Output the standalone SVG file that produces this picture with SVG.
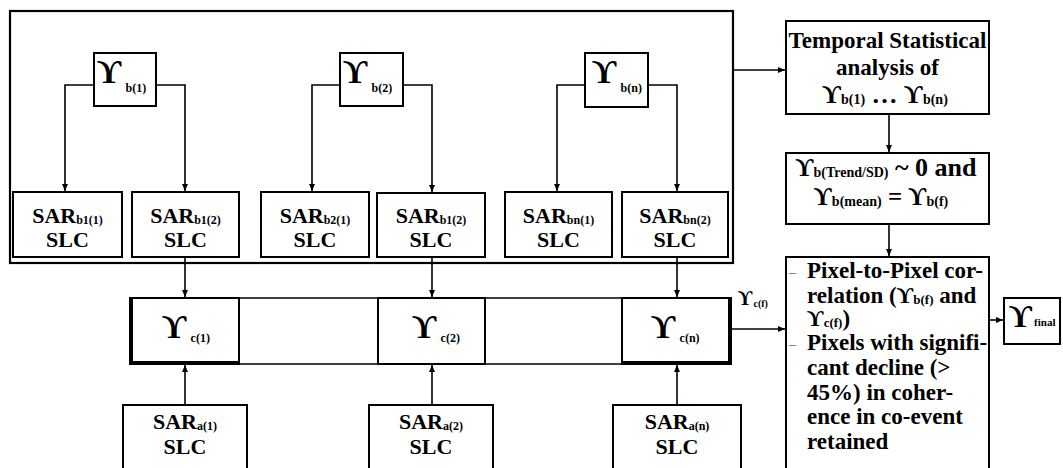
<svg xmlns="http://www.w3.org/2000/svg" width="1063" height="468" viewBox="0 0 1063 468">
<style>
text{font-family:"Liberation Serif","DejaVu Serif",serif;font-weight:bold;fill:#000}
.box{fill:#fff;stroke:#000;stroke-width:2}
.thin{fill:none;stroke:#000;stroke-width:1.5}
.thick{fill:none;stroke:#000;stroke-width:3}
.con{fill:none;stroke:#000;stroke-width:1.6}
.big{font-size:34px}
.sub{font-size:12px}
.sar{font-size:22px}
.bul{font-size:14px;fill:#666;font-weight:normal}
.pl{font-size:23px}
</style>
<defs>
<marker id="ah" markerUnits="userSpaceOnUse" markerWidth="8" markerHeight="8" refX="7" refY="4" orient="auto">
<path d="M0,1 L7,4 L0,7 z" fill="#000"/>
</marker>
</defs>
<rect width="1063" height="468" fill="#fff"/>

<g id="outer">
<rect x="10" y="11" width="723" height="252" fill="none" stroke="#000" stroke-width="2.2"/>
</g>

<g id="connectors">
<polyline class="con" points="94,85 65,85 65,191" marker-end="url(#ah)"/>
<polyline class="con" points="156,85 185,85 185,191" marker-end="url(#ah)"/>
<polyline class="con" points="340,85 312,85 312,191" marker-end="url(#ah)"/>
<polyline class="con" points="403,85 432,85 432,192" marker-end="url(#ah)"/>
<polyline class="con" points="585,85 557,85 557,191" marker-end="url(#ah)"/>
<polyline class="con" points="648,85 677,85 677,191" marker-end="url(#ah)"/>
<line class="con" x1="185" y1="257" x2="185" y2="297" marker-end="url(#ah)"/>
<line class="con" x1="432" y1="257" x2="432" y2="297" marker-end="url(#ah)"/>
<line class="con" x1="677" y1="257" x2="677" y2="297" marker-end="url(#ah)"/>
<line class="con" x1="185" y1="405" x2="185" y2="365" marker-end="url(#ah)"/>
<line class="con" x1="432" y1="405" x2="432" y2="365" marker-end="url(#ah)"/>
<line class="con" x1="677" y1="405" x2="677" y2="365" marker-end="url(#ah)"/>
<line class="con" x1="733" y1="70" x2="785" y2="70" marker-end="url(#ah)"/>
<line class="con" x1="889" y1="114" x2="889" y2="152" marker-end="url(#ah)"/>
<line class="con" x1="889" y1="224" x2="889" y2="256" marker-end="url(#ah)"/>
<line class="con" x1="732" y1="329" x2="785" y2="329" marker-end="url(#ah)"/>
<line class="con" x1="989" y1="320" x2="1003" y2="320" marker-end="url(#ah)"/>
</g>

<g id="yb1">
<rect class="box" x="94" y="53" width="62" height="53"/>
<text x="97" y="83" class="big">ϒ<tspan class="sub" dx="4" dy="9">b(1)</tspan></text>
</g>
<g id="yb2">
<rect class="box" x="340" y="53" width="63" height="53"/>
<text x="343" y="83" class="big">ϒ<tspan class="sub" dx="4" dy="9">b(2)</tspan></text>
</g>
<g id="ybn">
<rect class="box" x="585" y="53" width="63" height="54"/>
<text x="592" y="83" class="big">ϒ<tspan class="sub" dx="4" dy="9">b(n)</tspan></text>
</g>

<g id="sarb11">
<rect class="box" x="13" y="192" width="109" height="65"/>
<text x="67.5" y="223" class="sar" text-anchor="middle">SAR<tspan class="sub" dy="1">b1(1)</tspan></text>
<text x="67.5" y="247" class="sar" text-anchor="middle">SLC</text>
</g>
<g id="sarb12">
<rect class="box" x="132" y="192" width="107" height="65"/>
<text x="185.5" y="223" class="sar" text-anchor="middle">SAR<tspan class="sub" dy="1">b1(2)</tspan></text>
<text x="185.5" y="247" class="sar" text-anchor="middle">SLC</text>
</g>
<g id="sarb21">
<rect class="box" x="261" y="192" width="108" height="65"/>
<text x="315" y="223" class="sar" text-anchor="middle">SAR<tspan class="sub" dy="1">b2(1)</tspan></text>
<text x="315" y="247" class="sar" text-anchor="middle">SLC</text>
</g>
<g id="sarb12b">
<rect class="box" x="377" y="193" width="108" height="64" stroke-width="1.5"/>
<text x="431" y="223" class="sar" text-anchor="middle">SAR<tspan class="sub" dy="1">b1(2)</tspan></text>
<text x="431" y="247" class="sar" text-anchor="middle">SLC</text>
</g>
<g id="sarbn1">
<rect class="box" x="505" y="192" width="107" height="65"/>
<text x="558.5" y="223" class="sar" text-anchor="middle">SAR<tspan class="sub" dy="1">bn(1)</tspan></text>
<text x="558.5" y="247" class="sar" text-anchor="middle">SLC</text>
</g>
<g id="sarbn2">
<rect class="box" x="622" y="192" width="106" height="65"/>
<text x="675" y="223" class="sar" text-anchor="middle">SAR<tspan class="sub" dy="1">bn(2)</tspan></text>
<text x="675" y="247" class="sar" text-anchor="middle">SLC</text>
</g>

<g id="crow">
<rect class="thin" x="130" y="298" width="601" height="66"/>
</g>
<g id="yc1">
<rect class="box" x="130" y="298" width="109" height="66" stroke-width="1.5"/>
<polyline class="thick" points="131.5,298 131.5,362.5 239,362.5"/>
<text x="162" y="338" class="big">ϒ<tspan class="sub" dx="4" dy="4">c(1)</tspan></text>
</g>
<g id="yc2">
<rect class="box" x="378" y="298" width="107" height="66" stroke-width="1.5"/>
<text x="412" y="338" class="big">ϒ<tspan class="sub" dx="4" dy="4">c(2)</tspan></text>
</g>
<g id="ycn">
<rect class="box" x="622" y="298" width="109" height="66" stroke-width="1.5"/>
<polyline class="thick" points="622,362.5 729.5,362.5 729.5,298"/>
<text x="651" y="338" class="big">ϒ<tspan class="sub" dx="4" dy="4">c(n)</tspan></text>
</g>

<g id="sara1">
<rect class="box" x="123" y="405" width="124" height="70"/>
<text x="185" y="429" class="sar" text-anchor="middle">SAR<tspan class="sub" dy="1">a(1)</tspan></text>
<text x="185" y="454" class="sar" text-anchor="middle">SLC</text>
</g>
<g id="sara2">
<rect class="box" x="369" y="405" width="124" height="70"/>
<text x="431" y="429" class="sar" text-anchor="middle">SAR<tspan class="sub" dy="1">a(2)</tspan></text>
<text x="431" y="454" class="sar" text-anchor="middle">SLC</text>
</g>
<g id="saran">
<rect class="box" x="613" y="405" width="128" height="70"/>
<text x="677" y="429" class="sar" text-anchor="middle">SAR<tspan class="sub" dy="1">a(n)</tspan></text>
<text x="677" y="454" class="sar" text-anchor="middle">SLC</text>
</g>

<g id="ycf-label">
<text x="738" y="305" style="font-size:20px">ϒ<tspan style="font-size:10px" dx="1" dy="2">c(f)</tspan></text>
</g>

<g id="temporal">
<rect class="box" x="786" y="21" width="203" height="93"/>
<text x="887.5" y="48" style="font-size:23px" text-anchor="middle">Temporal Statistical</text>
<text x="887.5" y="75" style="font-size:23px" text-anchor="middle">analysis of</text>
<text x="885" y="103" style="font-size:26px" text-anchor="middle">ϒ<tspan style="font-size:14px" dy="1">b(1)</tspan><tspan dy="-1"> … ϒ</tspan><tspan style="font-size:14px" dy="1">b(n)</tspan></text>
</g>

<g id="trend">
<rect class="box" x="786" y="153" width="203" height="71"/>
<text x="886" y="176" style="font-size:25px" text-anchor="middle">ϒ<tspan style="font-size:14px" dy="1">b(Trend/SD)</tspan><tspan dy="-1" style="font-size:26px"> ~ 0 and</tspan></text>
<text x="881" y="205" style="font-size:25px" text-anchor="middle">ϒ<tspan style="font-size:14px" dy="1">b(mean)</tspan><tspan dy="-1"> = ϒ</tspan><tspan style="font-size:14px" dy="1">b(f)</tspan></text>
</g>

<g id="pixel">
<rect class="box" x="786" y="257" width="203" height="220"/>
<text x="789" y="277" class="bul">–</text>
<text x="789" y="349" class="bul">–</text>
<text x="807" y="278" class="pl">Pixel-to-Pixel cor-</text>
<text x="807" y="303" class="pl">relation (ϒ<tspan style="font-size:13px" dy="1">b(f)</tspan><tspan dy="-1"> and</tspan></text>
<text x="807" y="326" class="pl">ϒ<tspan style="font-size:13px" dy="1">c(f)</tspan><tspan dy="-1">)</tspan></text>
<text x="807" y="350" class="pl">Pixels with signifi-</text>
<text x="807" y="375" class="pl">cant decline (&gt;</text>
<text x="807" y="400" class="pl">45%) in coher-</text>
<text x="807" y="424" class="pl">ence in co-event</text>
<text x="807" y="449" class="pl">retained</text>
</g>

<g id="yfinal">
<rect class="box" x="1004" y="298" width="56" height="46"/>
<text x="1009" y="327" style="font-size:32px">ϒ<tspan style="font-size:11px" dx="2" dy="-1">final</tspan></text>
</g>
</svg>
